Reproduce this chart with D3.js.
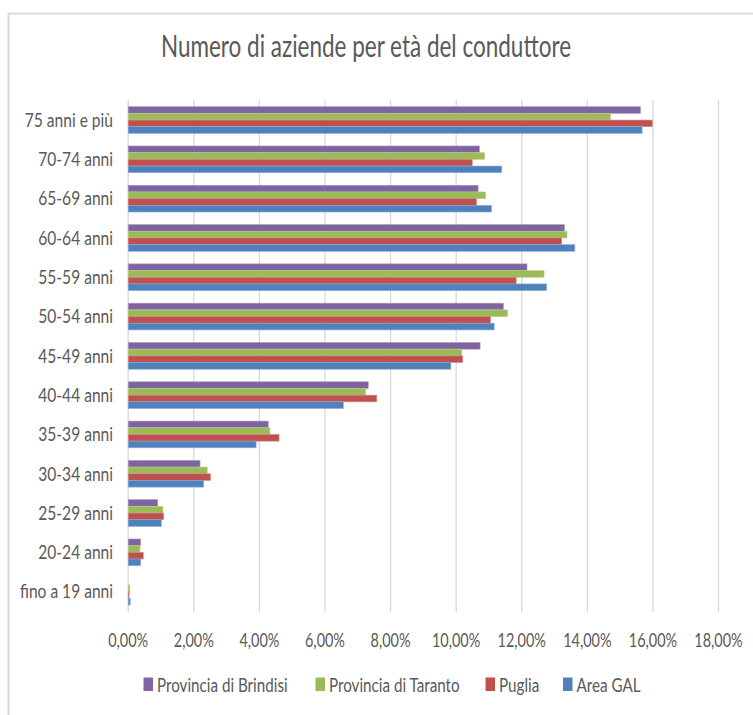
<!DOCTYPE html>
<html>
<head>
<meta charset="utf-8">
<script src="https://cdn.jsdelivr.net/npm/d3@7/dist/d3.min.js"></script>
<style>
  html, body { margin: 0; padding: 0; background: #fff; }
  svg { display: block; }
  text { font-family: Lato, "Open Sans", sans-serif; fill: #595959; }
</style>
</head>
<body>
<svg id="chart" width="753" height="715"></svg>
<script>
// ---------- data ----------
const categories = ["75 anni e più", "70-74 anni", "65-69 anni", "60-64 anni", "55-59 anni",
  "50-54 anni", "45-49 anni", "40-44 anni", "35-39 anni", "30-34 anni", "25-29 anni",
  "20-24 anni", "fino a 19 anni"];
const seriesNames = ["Provincia di Brindisi", "Provincia di Taranto", "Puglia", "Area GAL"];
const brindisi = [15.62, 10.71, 10.67, 13.30, 12.16, 11.44, 10.73, 7.32, 4.27, 2.19, 0.90, 0.38, 0.00];
const taranto  = [14.71, 10.87, 10.90, 13.38, 12.68, 11.57, 10.17, 7.24, 4.32, 2.41, 1.06, 0.36, 0.05];
const puglia   = [15.98, 10.49, 10.62, 13.22, 11.83, 11.05, 10.20, 7.58, 4.60, 2.51, 1.08, 0.46, 0.03];
const areaGal  = [15.67, 11.39, 11.08, 13.62, 12.76, 11.16, 9.84, 6.56, 3.90, 2.30, 1.01, 0.38, 0.06];
const tickValues = [0, 2, 4, 6, 8, 10, 12, 14, 16, 18];
const colors = ["#8064A2", "#9BBB59", "#C0504D", "#4F81BD"];
const strokes = ["#A897C0", "#B8D08A", "#D68B89", "#8CAAD6"];
const title = "Numero di aziende per età del conduttore";

const seriesValues = [brindisi, taranto, puglia, areaGal];

// ---------- layout ----------
const svg = d3.select("#chart");

// outer frame
svg.append("rect").attr("x", 8.5).attr("y", 13.5).attr("width", 760).attr("height", 720)
  .attr("fill", "none").attr("stroke", "#D9D9D9").attr("stroke-width", 2);

const x = d3.scaleLinear().domain([0, 18]).range([128.2, 718.5]);
const y = d3.scaleBand().domain(categories).range([100.4, 611.3])
  .paddingInner(0.32).paddingOuter(0.16);
const ys = d3.scaleBand().domain(seriesNames).range([0, y.bandwidth()]);

function sText(sel, xx, yy, txt, size, anchor, sx) {
  return sel.append("text")
    .attr("transform", `translate(${xx},${yy}) scale(${sx},1)`)
    .attr("font-size", size)
    .attr("text-anchor", anchor)
    .text(txt);
}

// title
sText(svg, 366, 56.5, title, 30, "middle", 0.75);

// gridlines
const grid = svg.append("g");
grid.selectAll("line").data(tickValues).join("line")
  .attr("x1", d => x(d)).attr("x2", d => x(d))
  .attr("y1", 100).attr("y2", 612)
  .attr("stroke", "#D9D9D9").attr("stroke-width", 1.3);

// bars
const groups = svg.append("g").selectAll("g").data(categories).join("g")
  .attr("transform", d => `translate(0,${y(d)})`);
groups.selectAll("rect")
  .data((c, i) => seriesNames.map((s, k) => ({ s, k, v: seriesValues[k][i] })))
  .join("rect")
  .filter(d => d.v > 0)
  .attr("x", x(0))
  .attr("y", d => ys(d.s))
  .attr("width", d => x(d.v) - x(0))
  .attr("height", ys.bandwidth())
  .attr("fill", d => colors[d.k])
  .attr("stroke", d => strokes[d.k])
  .attr("stroke-width", 0.6);

// category labels
const yAxisG = svg.append("g");
categories.forEach(c => {
  sText(yAxisG, 113, y(c) + y.bandwidth() / 2 + 6.8, c, 19, "end", 0.82);
});

// x tick labels
const xAxisG = svg.append("g");
tickValues.forEach(v => {
  const lbl = d3.format(".2f")(v).replace(".", ",") + "%";
  sText(xAxisG, x(v), 646.5, lbl, 18.5, "middle", 0.78);
});

// legend
const legendX = [143.5, 315.5, 485.5, 563];
const leg = svg.append("g");
seriesNames.forEach((s, k) => {
  leg.append("rect").attr("x", legendX[k]).attr("y", 677.5)
    .attr("width", 9.5).attr("height", 13.5).attr("fill", colors[k]);
  sText(leg, legendX[k] + 13.5, 691.5, s, 20, "start", 0.76);
});
</script>
</body>
</html>
